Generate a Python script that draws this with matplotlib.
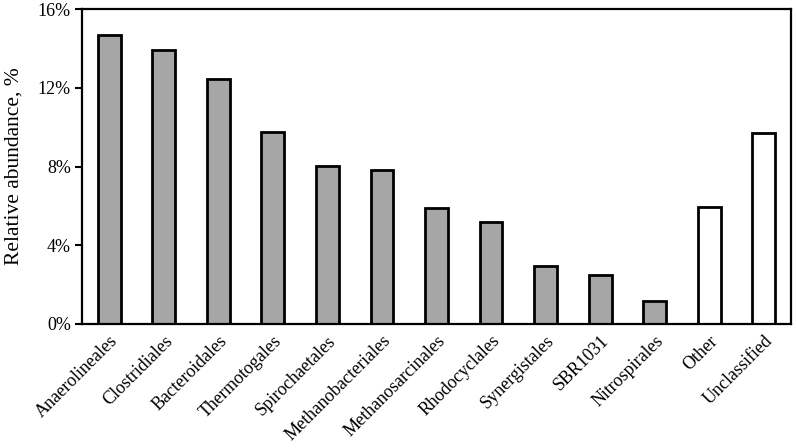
import matplotlib
matplotlib.use("Agg")
import matplotlib.pyplot as plt
from matplotlib.ticker import FuncFormatter

categories = ["Anaerolineales", "Clostridiales", "Bacteroidales", "Thermotogales",
              "Spirochaetales", "Methanobacteriales", "Methanosarcinales", "Rhodocyclales",
              "Synergistales", "SBR1031", "Nitrospirales", "Other", "Unclassified"]
values = [14.69, 13.92, 12.46, 9.73, 8.02, 7.80, 5.88, 5.17, 2.95, 2.49, 1.15, 5.96, 9.68]
fill_colors = ["#a6a6a6"] * 11 + ["#ffffff"] * 2
yticks = [0, 4, 8, 12, 16]

plt.rcParams['font.family'] = ['Liberation Serif', 'DejaVu Serif']

fig = plt.figure(figsize=(7.97, 4.48), dpi=100)
ax = fig.add_axes([82/797, 1-324/448, (791-82)/797, (324-9)/448])

x = list(range(len(categories)))
ax.bar(x, values, width=0.42, color=fill_colors, edgecolor="black", linewidth=2, zorder=2)

ax.set_xlim(-0.5, len(categories) - 0.5)
ax.set_ylim(0, 16)
ax.set_yticks(yticks)
ax.yaxis.set_major_formatter(FuncFormatter(lambda v, p: f"{v:.0f}%"))
ax.set_xticks(x)
ax.set_xticklabels(categories, rotation=45, ha="right", rotation_mode="anchor", fontsize=13)
ax.tick_params(axis="x", length=0, pad=6)
ax.tick_params(axis="y", length=5, width=1.5, labelsize=13, pad=3)
for s in ax.spines.values():
    s.set_linewidth(1.6)
ax.set_ylabel("Relative abundance, %", fontsize=15.5, labelpad=10)

fig.savefig("out.png", dpi=100)
